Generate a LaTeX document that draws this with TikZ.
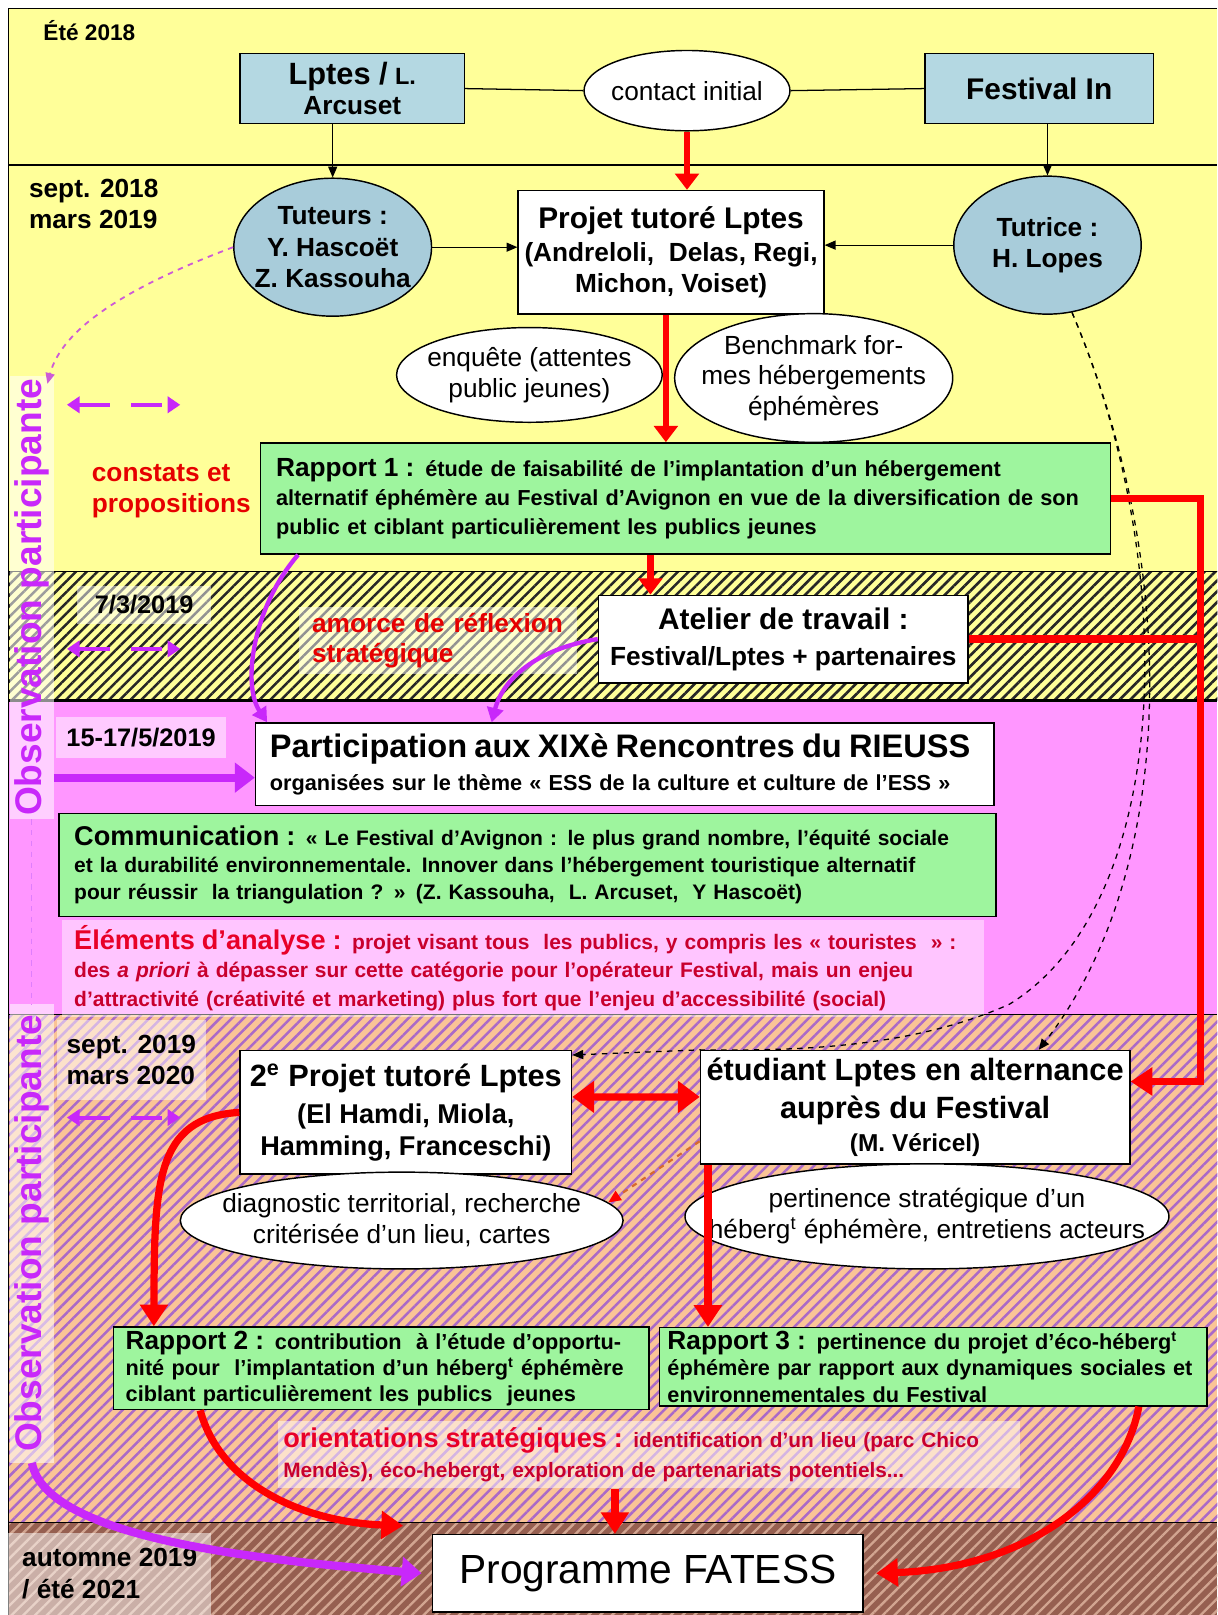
\documentclass[tikz,border=0pt]{standalone}
\usepackage{fontspec}
\setmainfont{Liberation Sans}
\usetikzlibrary{shapes.geometric, arrows.meta, patterns.meta}

\definecolor{bandyellow}{RGB}{255,255,153}
\definecolor{boxblue}{RGB}{180,216,226}
\definecolor{ovalblue}{RGB}{168,204,218}
\definecolor{repgreen}{RGB}{158,245,158}
\definecolor{bandpink}{RGB}{255,150,255}
\definecolor{bandpeach}{RGB}{250,196,150}
\definecolor{stripepurple}{RGB}{170,105,200}
\definecolor{bandbrown}{RGB}{150,95,80}
\definecolor{stripebrown}{RGB}{210,165,145}
\definecolor{obsviolet}{RGB}{200,40,250}
\definecolor{obspink}{RGB}{205,90,215}
\definecolor{txtred}{RGB}{230,0,0}
\definecolor{titlered}{RGB}{232,0,40}
\definecolor{elemred}{RGB}{200,0,45}
\definecolor{dashorange}{RGB}{215,105,45}

\begin{document}
\begin{tikzpicture}[
  x=0.02cm, y=-0.02cm,
  every node/.style={font=\fontsize{14.5}{17}\selectfont\bfseries},
  box/.style={draw, line width=0.8pt, fill=white, align=center, inner xsep=2pt},
  bluebox/.style={box, fill=boxblue},
  greenbox/.style={draw, line width=0.8pt, fill=repgreen, align=left, inner ysep=2pt},
  oval/.style={ellipse, draw, line width=0.8pt, fill=white, inner sep=0pt},
  ovaltxt/.style={align=center, font=\fontsize{14.5}{17}\selectfont},
  ovalbold/.style={align=center, font=\fontsize{14.5}{17.5}\selectfont\bfseries},
  datelab/.style={fill=white, fill opacity=0.5, text opacity=1, align=left},
  redtxt/.style={text=txtred, align=left},
  obslab/.style={rotate=90, fill=white, fill opacity=0.55, text opacity=1,
                 text=obsviolet, inner sep=0pt, minimum height=0.84cm,
                 font=\fontsize{20.5}{24}\selectfont\bfseries},
  thinarr/.style={line width=0.6pt, -{Triangle[length=6pt, width=5pt]}},
  redarr/.style={red, line width=3.4pt, -{Triangle[length=9pt, width=13pt]}},
  redcurve/.style={red, line width=4pt, -{Triangle[length=12pt, width=15pt]}},
  reddouble/.style={red, line width=4pt,
                    {Triangle[length=12pt, width=17pt]}-{Triangle[length=12pt, width=17pt]}},
  purarr/.style={obsviolet, line width=2.4pt, -{Triangle[length=8pt, width=9pt]}},
  purthick/.style={obsviolet, line width=4.5pt, -{Triangle[length=11pt, width=16pt]}},
  pardash/.style={obsviolet, line width=2.2pt, dash pattern=on 17pt off 12pt,
                  {Triangle[length=7pt, width=9pt]}-{Triangle[length=7pt, width=9pt]}},
  tutdash/.style={line width=0.7pt, dashed, -{Triangle[length=6pt, width=5pt]}},
  obsdash/.style={obspink, line width=1pt, dashed, -{Triangle[length=6pt, width=5pt]}},
  orangedash/.style={draw=dashorange, line width=1.2pt, dashed,
                     -{Triangle[length=7pt, width=6pt, color=red]}}
]
\useasboundingbox (0,0) rectangle (1182,1568);

% ---- BANDS ----
\fill[bandyellow] (8,8) rectangle (1182,680);
\fill[pattern={Lines[angle=45, distance=4.2pt, line width=1.4pt]}, pattern color=black!85]
  (8,555) rectangle (1182,680);
\fill[bandpink] (8,680) rectangle (1182,985);
\fill[bandpeach] (8,985) rectangle (1182,1478);
\fill[pattern={Lines[angle=45, distance=4.6pt, line width=1.4pt]}, pattern color=stripepurple]
  (8,985) rectangle (1182,1478);
\fill[bandbrown] (8,1478) rectangle (1182,1568);
\fill[pattern={Lines[angle=45, distance=4.6pt, line width=1.3pt]}, pattern color=stripebrown]
  (8,1478) rectangle (1182,1568);
\draw[line width=0.8pt] (8,1568) -- (8,8) -- (1182,8);
\foreach \yy in {160,555,985,1478}
  \draw[line width=0.8pt] (8,\yy) -- (1182,\yy);
\draw[line width=1.4pt] (8,680) -- (1182,680);

% ---- LEFT LABELS ----
\node[obslab, minimum width=8.6cm] (obs1) at (31,580) {Observation participante};
\node[obslab, minimum width=8.9cm] (obs2) at (31,1197.5) {Observation participante};

% ==== ETE 2018 ====
\node[anchor=west, font=\fontsize{12.5}{15}\selectfont\bfseries] (ete) at (36,30) {Été 2018};
\node[bluebox, minimum width=4.36cm, minimum height=1.36cm] (lptes) at (342,86)
  {{\fontsize{17}{20}\selectfont Lptes /} {\fontsize{13}{20}\selectfont L.}\\Arcuset};
\node[oval, minimum width=4cm, minimum height=1.56cm,
      label={[ovaltxt]center:contact initial}] (contact) at (667,88) {};
\node[bluebox, minimum width=4.44cm, minimum height=1.36cm,
      font=\fontsize{16.5}{19}\selectfont\bfseries] (festival) at (1009,86) {Festival In};

% ==== SEPT. 2018 / MARS 2019 ====
\node[anchor=west, align=left] (sept18) at (22,198) {sept. 2018\\mars 2019};
\node[oval, fill=ovalblue, minimum width=3.84cm, minimum height=2.68cm,
      label={[ovalbold]center:{Tuteurs :\\Y. Hascoët\\Z. Kassouha}}] (tuteurs) at (323,240) {};
\node[box, minimum width=5.94cm, minimum height=2.4cm] (projet) at (651.5,245)
  {{\fontsize{16.5}{19}\selectfont Projet tutoré Lptes}\\[1pt](Andreloli,\ \ Delas, Regi,\\Michon, Voiset)};
\node[oval, fill=ovalblue, minimum width=3.64cm, minimum height=2.68cm,
      label={[ovalbold]center:{Tutrice :\\H. Lopes}}] (tutrice) at (1017,238) {};
\node[oval, minimum width=5.16cm, minimum height=1.84cm,
      label={[ovaltxt]center:{enquête (attentes\\public jeunes)}}] (enquete) at (514,364) {};
\node[oval, minimum width=5.4cm, minimum height=2.5cm,
      label={[ovaltxt]center:{Benchmark for-\\mes hébergements\\éphémères}}] (bench) at (790,367) {};
\node[redtxt, anchor=west] (constats) at (83,477) {constats et\\propositions};
\node[greenbox, minimum width=16.5cm, minimum height=2.16cm, text width=15.9cm,
      inner xsep=0.3cm, font=\fontsize{12}{16}\selectfont\bfseries] (rapport1) at (665.5,484)
  {{\fontsize{14.5}{16}\selectfont Rapport 1 :} étude de faisabilité de l’implantation d’un hébergement\\
   alternatif éphémère au Festival d’Avignon en vue de la diversification de son\\
   public et ciblant particulièrement les publics jeunes};

% ==== 7/3/2019 ====
\node[datelab, minimum width=2.6cm, minimum height=0.74cm,
      font=\fontsize{14}{17}\selectfont\bfseries] (d3) at (140,587) {7/3/2019};
\node[datelab, redtxt, minimum width=5.4cm, minimum height=1.3cm, text width=4.88cm,
      inner xsep=0.26cm] (amorce) at (425,622) {amorce de réflexion\\stratégique};
\node[box, minimum width=7.18cm, minimum height=1.7cm] (atelier) at (760.5,620.5)
  {{\fontsize{16.5}{19}\selectfont Atelier de travail :}\\[3pt]Festival/Lptes + partenaires};

% ==== 15-17/5/2019 ====
\node[datelab, minimum width=3.3cm, minimum height=0.8cm,
      font=\fontsize{14}{17}\selectfont\bfseries] (d4) at (137,716) {15-17/5/2019};
\node[box, align=left, minimum width=14.34cm, minimum height=1.6cm, text width=13.78cm,
      inner xsep=0.28cm, font=\fontsize{12}{15}\selectfont\bfseries] (particip) at (606.5,742)
  {{\fontsize{18}{22}\selectfont Participation aux XIXè Rencontres du RIEUSS}\\[3pt]
   organisées sur le thème « ESS de la culture et culture de l’ESS »};
\node[greenbox, minimum width=18.2cm, minimum height=2cm, text width=17.6cm,
      inner xsep=0.3cm, font=\fontsize{11.6}{15}\selectfont\bfseries] (commu) at (512,840)
  {{\fontsize{15}{15}\selectfont Communication :} « Le Festival d’Avignon : le plus grand nombre, l’équité sociale\\
   et la durabilité environnementale. Innover dans l’hébergement touristique alternatif\\
   pour réussir\ \ la triangulation ? » (Z. Kassouha,\ \ L. Arcuset,\ \ Y Hascoët)};
\node[datelab, fill opacity=0.45, text=elemred, minimum width=17.9cm, minimum height=1.8cm,
      text width=17.42cm, inner xsep=0.24cm, font=\fontsize{11.6}{15.5}\selectfont\bfseries]
  (elements) at (507.5,940)
  {{\fontsize{15}{15}\selectfont\color{titlered}Éléments d’analyse :} projet visant tous\ \ les publics, y compris les « touristes\ \ » :\\
   des \textit{a priori} à dépasser sur cette catégorie pour l’opérateur Festival, mais un enjeu\\
   d’attractivité (créativité et marketing) plus fort que l’enjeu d’accessibilité (social)};

% ==== SEPT. 2019 / MARS 2020 ====
\node[datelab, minimum width=2.9cm, minimum height=1.56cm] (d5) at (127.5,1029)
  {sept. 2019\\mars 2020};
\node[box, minimum width=6.44cm, minimum height=2.4cm,
      font=\fontsize{15}{17.5}\selectfont\bfseries] (projet2) at (394,1080)
  {{\fontsize{17}{20}\selectfont 2\textsuperscript{e} Projet tutoré Lptes}\\[3pt](El Hamdi, Miola,\\Hamming, Franceschi)};
\node[box, minimum width=8.34cm, minimum height=2.2cm, inner xsep=1pt,
      font=\fontsize{17}{21}\selectfont\bfseries] (etudiant) at (888.5,1075)
  {étudiant Lptes en alternance\\auprès du Festival\\[-3pt]{\fontsize{13.5}{16}\selectfont (M. Véricel)}};
\node[oval, minimum width=8.6cm, minimum height=1.88cm,
      label={[ovaltxt]center:{diagnostic territorial, recherche\\critérisée d’un\ lieu, cartes}}]
  (diag) at (390,1185) {};
\node[oval, minimum width=9.4cm, minimum height=2.04cm,
      label={[ovaltxt]center:{pertinence\ stratégique\ d’un\\héberg\textsuperscript{t} éphémère,\ entretiens\ acteurs}}]
  (pertin) at (900,1181) {};
\node[greenbox, minimum width=10.4cm, minimum height=1.46cm, text width=9.92cm,
      inner xsep=0.24cm, font=\fontsize{12}{14.5}\selectfont\bfseries] (rapport2) at (370,1328.5)
  {{\fontsize{14.5}{14.5}\selectfont Rapport 2 :} contribution\ \ à l’étude d’opportu-\\
   nité pour\ \ l’implantation d’un héberg\textsuperscript{t} éphémère\\
   ciblant particulièrement les publics\ \ jeunes};
\node[greenbox, minimum width=10.64cm, minimum height=1.4cm, text width=10.32cm,
      inner xsep=0.16cm, font=\fontsize{12}{14.5}\selectfont\bfseries] (rapport3) at (906,1327)
  {{\fontsize{14.5}{14.5}\selectfont Rapport 3 :} pertinence du projet d’éco-héberg\textsuperscript{t}\\
   éphémère par rapport aux dynamiques sociales et\\
   environnementales du Festival};
\node[datelab, text=elemred, minimum width=14.4cm, minimum height=1.3cm, text width=14.2cm,
      inner xsep=0.1cm, font=\fontsize{11.5}{17}\selectfont\bfseries] (orient) at (630,1412.5)
  {{\fontsize{15}{17}\selectfont\color{titlered}orientations stratégiques :} identification d’un lieu (parc Chico\\
   Mendès), éco-hebergt, exploration de partenariats potentiels...};

% ==== AUTOMNE 2019 / ETE 2021 ====
\node[datelab, minimum width=3.94cm, minimum height=1.6cm,
      font=\fontsize{14.5}{17.5}\selectfont\bfseries] (d6) at (106.5,1528) {automne 2019\\/ été 2021};
\node[box, minimum width=8.36cm, minimum height=1.5cm,
      font=\fontsize{22.5}{26}\selectfont] (fatess) at (629,1527.5) {Programme FATESS};

% ---- thin links ----
\draw[line width=0.7pt] (lptes.east) -- (contact.west);
\draw[line width=0.7pt] (contact.east) -- (festival.west);
\draw[thinarr] (lptes.south -| tuteurs.north) -- (tuteurs.north);
\draw[thinarr] (festival.south -| tutrice.north) -- (tutrice.north);
\draw[thinarr] (tuteurs.east) -- (tuteurs.east -| projet.west);
\draw[thinarr] (tutrice.west) -- (tutrice.west -| projet.east);

% ---- dashed links ----
\draw[obsdash] (tuteurs.west) .. controls (120,280) and (60,320) ..
  ([xshift=0.3cm, yshift=-0.16cm]obs1.east);
\draw[obsviolet!60, line width=0.6pt, dashed] (obs1.west) -- (obs2.east);
\coordinate (etutop) at ([xshift=2.4cm]etudiant.north);
\coordinate (p2in) at ([yshift=-0.1cm]projet2.north east);
\draw[tutdash] (tutrice.-70) .. controls (1150,560) and (1140,850) .. (etutop);
\draw[tutdash] (tutrice.-70) .. controls (1150,560) and (1135,880) .. (980,975)
  .. controls (880,1020) and (760,1020) .. (etudiant.north west) -- (p2in);
\draw[orangedash] ([yshift=-0.66cm]etudiant.west) -- (diag.5);

% ---- red flow ----
\draw[redarr] (contact.south) -- (contact.south |- projet.north);
\draw[redarr] ([xshift=-0.1cm]projet.south) coordinate (pj) -- (pj |- rapport1.north);
\draw[redarr] ([xshift=-0.68cm]rapport1.south) coordinate (r1) -- (r1 |- atelier.north);
\path (rapport1.east) -- ++(87,0) coordinate (rbend);
\coordinate (etuin) at ([yshift=0.5cm]etudiant.east);
\draw[redcurve, line join=miter] (rapport1.east) -- (rbend) |- (etuin);
\draw[red, line width=4pt] (atelier.east) -- (atelier.east -| rbend);
\draw[reddouble] ([yshift=0.3cm]projet2.east) -- ([yshift=0.2cm]etudiant.west);
\draw[redcurve] (projet2.west) .. controls (150,1085) and (150,1150) ..
  ([xshift=0.8cm]rapport2.north west);
\draw[redcurve] ([xshift=0.16cm]etudiant.south west) coordinate (e3) -- (e3 |- rapport3.north);
\draw[redcurve] ([xshift=1.7cm]rapport2.south west) .. controls (215,1445) and (300,1478) ..
  ([xshift=-0.56cm, yshift=0.16cm]fatess.north west);
\draw[redcurve] ([xshift=-0.66cm]orient.south) coordinate (o1) -- (o1 |- fatess.north);
\draw[redcurve] ([xshift=-1.34cm]rapport3.south east) .. controls (1090,1450) and (1000,1522) ..
  ([xshift=0.24cm]fatess.east);

% ---- purple flow ----
\draw[purarr] ([xshift=0.74cm]rapport1.south west) .. controls (245,590) and (235,665) ..
  ([xshift=0.24cm]particip.north west);
\draw[purarr] (atelier.west) .. controls (520,630) and (488,660) ..
  ([xshift=4.6cm]particip.north west);
\coordinate (ppin) at ([yshift=-0.26cm]particip.west);
\draw[purthick] (ppin -| obs1.south) -- (ppin);
\draw[purthick] (obs2.west) .. controls (45,1495) and (260,1515) ..
  ([xshift=-0.2cm]fatess.west);
\foreach \yy [count=\i] in {393,630,1085} {
  \coordinate (pl\i) at (65,\yy);
  \coordinate (pr\i) at (175,\yy);
  \draw[pardash] (pl\i) -- (pr\i);
}

\end{tikzpicture}
\end{document}
